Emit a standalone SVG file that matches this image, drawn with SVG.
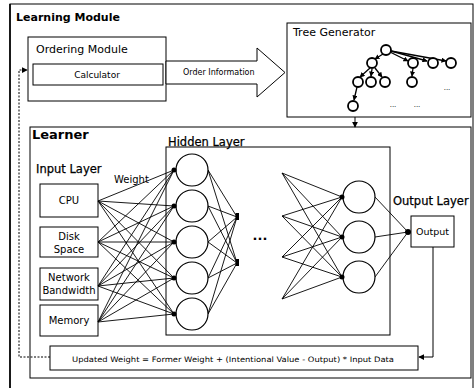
<svg xmlns="http://www.w3.org/2000/svg" width="475" height="388" viewBox="0 0 475 388">
<defs>
<style>
text{font-family:"DejaVu Sans","Liberation Sans",sans-serif;fill:#000}
.box{fill:#fff;stroke:#000;stroke-width:1}
.frame{fill:none;stroke:#000;stroke-width:1}
.neuron{fill:#fff;stroke:#000;stroke-width:1.2}
.tnode{fill:#fff;stroke:#000;stroke-width:1.8}
.w{stroke:#000;stroke-width:0.9;fill:none}
.dot{fill:#000}
.hd{font-size:11.5px;stroke:#000;stroke-width:0.25}
.lbl{font-size:10px;text-anchor:middle}
</style>
<marker id="ah" viewBox="0 0 8 8" refX="7" refY="4" markerWidth="6" markerHeight="6" orient="auto"><path d="M0,0 L8,4 L0,8 z" fill="#000"/></marker>
<marker id="ts" viewBox="0 0 8 8" refX="7" refY="4" markerWidth="4" markerHeight="4" orient="auto"><path d="M0,0 L8,4 L0,8 z" fill="#000"/></marker>
</defs>
<rect width="475" height="388" fill="#fff"/>

<g id="learning-module">
<rect x="10" y="4" width="463" height="390" class="frame"/>
<line x1="10" y1="4" x2="10" y2="388" stroke="#000" stroke-width="1.6"/>
<text x="16" y="21" font-size="11px" font-weight="bold">Learning Module</text>
</g>

<g id="ordering-module">
<rect x="28" y="37" width="138" height="64" class="box"/>
<text x="36" y="53" font-size="11px">Ordering Module</text>
</g>
<g id="calculator">
<rect x="33" y="64" width="130" height="21" class="box"/>
<text x="97" y="78" font-size="9px" text-anchor="middle">Calculator</text>
</g>

<g id="order-information">
<polygon points="166,61 257,61 257,48 285,72.5 257,97 257,84 166,84" fill="#fff" stroke="#000" stroke-width="1"/>
<text x="183" y="75" font-size="8px">Order Information</text>
</g>

<g id="tree-generator">
<rect x="287" y="23" width="184" height="94" class="box"/>
<text x="293" y="36" font-size="11px">Tree Generator</text>
<g stroke="#000" stroke-width="1.3" fill="none">
<line x1="390" y1="52" x2="408" y2="61" marker-end="url(#ts)"/>
<line x1="391" y1="51" x2="427" y2="61" marker-end="url(#ts)"/>
<line x1="391" y1="51" x2="446" y2="61" marker-end="url(#ts)"/>
<line x1="383" y1="54" x2="375" y2="59" marker-end="url(#ts)"/>
<line x1="370" y1="68" x2="360" y2="77" marker-end="url(#ts)"/>
<line x1="372" y1="69" x2="371" y2="76" marker-end="url(#ts)"/>
<line x1="375" y1="68" x2="382" y2="77" marker-end="url(#ts)"/>
<line x1="413" y1="68" x2="412" y2="76" marker-end="url(#ts)"/>
<line x1="357" y1="87" x2="354" y2="100" marker-end="url(#ts)"/>
</g>
<circle cx="386" cy="50" r="5" class="tnode"/>
<circle cx="372" cy="63" r="5" class="tnode"/>
<circle cx="413" cy="63" r="5" class="tnode"/>
<circle cx="433" cy="63" r="5" class="tnode"/>
<circle cx="451" cy="63" r="5" class="tnode"/>
<circle cx="358" cy="82" r="5" class="tnode"/>
<circle cx="371" cy="82" r="5" class="tnode"/>
<circle cx="385" cy="82" r="5" class="tnode"/>
<circle cx="412" cy="82" r="5" class="tnode"/>
<circle cx="353" cy="106" r="5" class="tnode"/>
<text x="393" y="107" font-size="7px" text-anchor="middle">...</text>
<text x="417" y="107" font-size="7px" text-anchor="middle">...</text>
<text x="447" y="90" font-size="7px" text-anchor="middle">...</text>
</g>

<g id="learner">
<rect x="30" y="127" width="441" height="251" class="box"/>
<text x="32" y="139" font-size="13px" font-weight="bold">Learner</text>
</g>

<g id="hidden-layer">
<rect x="166" y="147" width="224" height="188" class="box"/>
<text x="168" y="146" class="hd">Hidden Layer</text>
</g>

<g id="input-layer">
<text x="36" y="173" class="hd">Input Layer</text>
</g>
<g id="cpu"><rect x="40" y="184" width="58" height="33" class="box"/><text x="69" y="204" class="lbl">CPU</text></g>
<g id="disk-space"><rect x="40" y="227" width="58" height="30" class="box"/><text x="69" y="240" class="lbl">Disk</text><text x="69" y="253" class="lbl">Space</text></g>
<g id="network-bandwidth"><rect x="40" y="268" width="58" height="32" class="box"/><text x="69" y="281" class="lbl">Network</text><text x="69" y="294" class="lbl">Bandwidth</text></g>
<g id="memory"><rect x="40" y="305" width="58" height="31" class="box"/><text x="69" y="324" class="lbl">Memory</text></g>

<g id="connectors">
<g class="w">
<!-- input to hidden -->
<path d="M98,201 L174,170 M98,201 L174,206 M98,201 L174,242 M98,201 L174,278 M98,201 L174,314"/>
<path d="M98,242 L174,170 M98,242 L174,206 M98,242 L174,242 M98,242 L174,278 M98,242 L174,314"/>
<path d="M98,286 L174,170 M98,286 L174,206 M98,286 L174,242 M98,286 L174,278 M98,286 L174,314"/>
<path d="M98,322 L174,170 M98,322 L174,206 M98,322 L174,242 M98,322 L174,278 M98,322 L174,314"/>
<!-- hidden to second layer -->
<path d="M208,170 L237,217 M208,170 L237,263 M208,206 L237,217 M208,206 L237,263 M208,242 L237,217 M208,242 L237,263 M208,278 L237,217 M208,278 L237,263 M208,314 L237,217 M208,314 L237,263"/>
<!-- right part fan-in -->
<path d="M282,173 L342,197 M282,173 L342,237 M282,173 L342,277"/>
<path d="M282,216 L342,197 M282,216 L342,237 M282,216 L342,277"/>
<path d="M282,257 L342,197 M282,257 L342,237 M282,257 L342,277"/>
<path d="M282,299 L342,197 M282,299 L342,237 M282,299 L342,277"/>
<!-- to output -->
<path d="M375,197 L408,232 M375,237 L408,232 M375,277 L408,232"/>
</g>
<line x1="355" y1="117" x2="355" y2="127" stroke="#000" stroke-width="1" marker-end="url(#ah)"/>
<polyline points="433,247 433,357 419,357" fill="none" stroke="#000" stroke-width="1" marker-end="url(#ah)"/>
<polyline points="50,357 19,357 19,70 27,70" fill="none" stroke="#000" stroke-width="1" stroke-dasharray="2,1.5" marker-end="url(#ah)"/>
</g>
<text x="114" y="183" font-size="10px">Weight</text>

<g id="hidden-neurons">
<circle cx="192" cy="170" r="16" class="neuron"/>
<circle cx="192" cy="206" r="16" class="neuron"/>
<circle cx="192" cy="242" r="16" class="neuron"/>
<circle cx="192" cy="278" r="16" class="neuron"/>
<circle cx="192" cy="314" r="16" class="neuron"/>
<circle cx="174" cy="170" r="2.5" class="dot"/>
<circle cx="174" cy="206" r="2.5" class="dot"/>
<circle cx="174" cy="242" r="2.5" class="dot"/>
<circle cx="174" cy="278" r="2.5" class="dot"/>
<circle cx="174" cy="314" r="2.5" class="dot"/>
<rect x="235.5" y="213" width="3.5" height="7" class="dot"/>
<rect x="235.5" y="259" width="3.5" height="7" class="dot"/>
<text x="260" y="240" font-size="13px" font-weight="bold" text-anchor="middle">...</text>
<circle cx="359" cy="197" r="16" class="neuron"/>
<circle cx="359" cy="237" r="16" class="neuron"/>
<circle cx="359" cy="277" r="16" class="neuron"/>
<circle cx="342" cy="197" r="2.5" class="dot"/>
<circle cx="342" cy="237" r="2.5" class="dot"/>
<circle cx="342" cy="277" r="2.5" class="dot"/>
</g>

<g id="output-layer">
<text x="393" y="205" class="hd" font-size="12px">Output Layer</text>
<rect x="411" y="216" width="43" height="31" class="box"/>
<text x="432.5" y="235" font-size="9.5px" text-anchor="middle">Output</text>
<circle cx="408" cy="232" r="3" class="dot"/>
</g>

<g id="update-rule">
<rect x="50" y="346" width="368" height="24" class="box"/>
<text x="233" y="362" font-size="7.5px" text-anchor="middle" textLength="322" lengthAdjust="spacingAndGlyphs">Updated Weight = Former Weight + (Intentional Value - Output) * Input Data</text>
</g>
</svg>
